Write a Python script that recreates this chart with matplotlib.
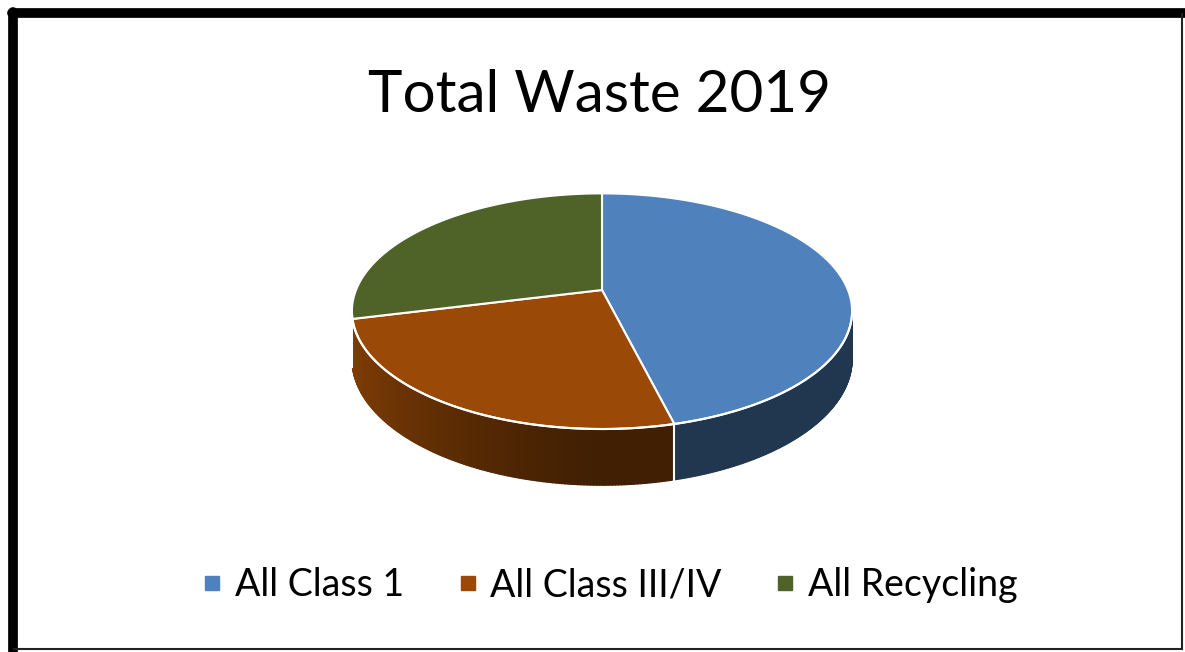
import numpy as np
import matplotlib
matplotlib.use("Agg")
import matplotlib.pyplot as plt
from matplotlib.patches import Polygon
from matplotlib.collections import PolyCollection
from matplotlib.lines import Line2D
from matplotlib.colors import to_rgb

# data (shares of total waste)
labels = ["All Class 1", "All Class III/IV", "All Recycling"]
shares = [46.1, 25.0, 28.9]
top_colors = ["#4F81BD", "#9A4A06", "#4F6228"]

title = "Total Waste 2019"

W, H = 1185, 652
fig = plt.figure(figsize=(W / 100, H / 100), dpi=100)
ax = fig.add_axes([0, 0, 1, 1])
ax.set_xlim(0, W)
ax.set_ylim(H, 0)
ax.axis("off")

# 3d pie geometry (pixel space)
cx, cy = 602, 290      # apex of the pie
rx, ry = 246, 114      # radii of the top face
persp = 0.18           # perspective strength
depth = 46             # thickness


def rim(theta, drop=0.0):
    # theta in degrees, clockwise from 12 o'clock
    t = np.radians(theta)
    u = np.sin(t)
    v = -np.cos(t)
    w = 1 - persp * v
    return cx + rx * u / w, cy + ry * v / w + drop / w


def shade(theta):
    s = np.maximum(0, -np.sin(np.radians(theta)))
    return 0.42 + 0.42 * s ** 1.3


vis_lo = np.degrees(np.arccos(-persp))
vis_hi = 360 - vis_lo

bounds = np.concatenate([[0], np.cumsum(shares) / np.sum(shares) * 360])

# side walls
for i in range(len(shares)):
    lo = max(bounds[i], vis_lo)
    hi = min(bounds[i + 1], vis_hi)
    if hi <= lo:
        continue
    ts = np.linspace(lo, hi, 150)
    base = np.array(to_rgb(top_colors[i]))
    polys, cols = [], []
    for t0, t1 in zip(ts[:-1], ts[1:]):
        x0, y0 = rim(t0)
        x1, y1 = rim(t1)
        x2, y2 = rim(t1, depth)
        x3, y3 = rim(t0, depth)
        polys.append([(x0, y0), (x1, y1), (x2, y2), (x3, y3)])
        cols.append(np.clip(base * shade((t0 + t1) / 2), 0, 1))
    ax.add_collection(PolyCollection(polys, facecolors=cols, edgecolors=cols,
                                     linewidths=1.0))

# top face
for i in range(len(shares)):
    ts = np.linspace(bounds[i], bounds[i + 1], 120)
    xs, ys = rim(ts)
    pts = [(cx, cy)] + list(zip(xs, ys))
    ax.add_patch(Polygon(pts, closed=True, facecolor=top_colors[i],
                         edgecolor="white", linewidth=1.5, joinstyle="round"))

# highlight along the front rim and the side seams
ts = np.linspace(vis_lo, vis_hi, 200)
xs, ys = rim(ts)
ax.plot(xs, ys, color="white", lw=1.5, solid_capstyle="round")
for b in bounds[1:-1]:
    if vis_lo < b < vis_hi:
        xa, ya = rim(b)
        xb, yb = rim(b, depth)
        ax.plot([xa, xb], [ya, yb], color="white", lw=1.5)

# frame
ax.plot([12, W], [12.5, 12.5], color="black", lw=7, solid_capstyle="round")
ax.plot([12.5, 12.5], [12, H], color="black", lw=7, solid_capstyle="round")
ax.plot([1182, 1182], [14, 649], color="#222222", lw=1.5)
ax.plot([14, 1182], [649, 649], color="#222222", lw=1.5)

fig.text(600 / W, 1 - 112 / H, title, fontsize=42, family="Lato",
         ha="center", va="baseline")

handles = [Line2D([], [], marker="s", linestyle="none", markersize=10,
                  markerfacecolor=c, markeredgecolor=c) for c in top_colors]
fig.legend(handles, labels, loc="center", ncol=3, frameon=False,
           bbox_to_anchor=(611 / W, 1 - 585 / H),
           prop={"family": "Lato", "size": 27},
           handlelength=0.4, handletextpad=0.4, columnspacing=1.5)

fig.savefig("out.png", dpi=100)
